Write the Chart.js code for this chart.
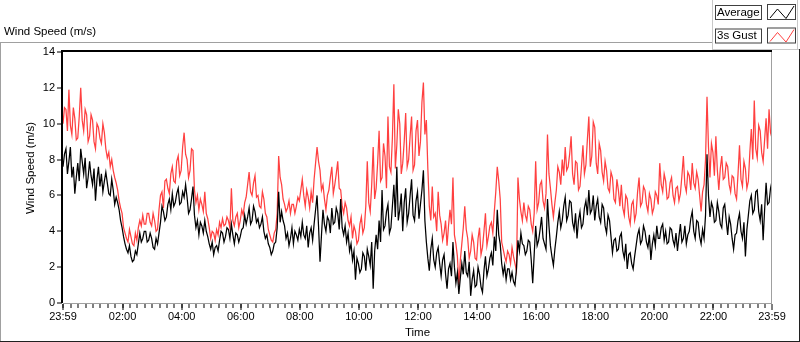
<!DOCTYPE html>
<html><head><meta charset="utf-8">
<script src="https://cdn.jsdelivr.net/npm/chart.js@4.4.1/dist/chart.umd.min.js"></script>
<style>html,body{margin:0;padding:0;background:#fff;overflow:hidden}#wrap{position:relative;width:800px;height:342px}</style>
</head><body><div id="wrap"><canvas id="c" width="800" height="342"></canvas></div>
<script>
// ---------- data ----------
const chartTitle = 'Wind Speed (m/s)';
const yAxisTitle = 'Wind Speed (m/s)';
const xAxisTitle = 'Time';
const seriesNames = ['Average', '3s Gust'];
const sampleStepMinutes = 3;            // one reading every 3 minutes from 23:59
const xTickMinutes = [0, 121, 241, 361, 481, 601, 721, 841, 961, 1081, 1201, 1321, 1440];
const xTickLabels = ['23:59', '02:00', '04:00', '06:00', '08:00', '10:00', '12:00', '14:00', '16:00', '18:00', '20:00', '22:00', '23:59'];
const yTickValues = [0, 2, 4, 6, 8, 10, 12, 14];

const average = [
7.6,8.3, 8.6,7.2, 7.9,8.7, 7.0,7.6, 6.1,7.0, 7.8,6.8, 8.6,7.9, 7.2,8.1, 6.4,7.0, 7.9,7.1,
6.6,7.5, 5.7,6.9, 7.6,6.5, 7.2,6.2, 6.8,7.3, 6.7,6.1, 6.0,6.9, 6.3,5.5, 5.9,5.6, 5.2,4.6,
4.2,3.7, 3.3,3.0, 2.8,3.2, 2.6,2.3, 2.4,2.9, 2.7,3.3, 3.9,3.4, 3.6,4.0, 4.0,3.4, 3.5,3.9,
3.6,3.1, 3.0,3.6, 3.3,3.9, 4.5,5.4, 5.1,4.6, 4.8,5.5, 5.8,5.2, 6.1,5.4, 5.6,6.1, 6.4,5.5,
5.6,6.2, 5.9,6.6,
5.9,5.0, 5.2,5.8, 6.5,4.9, 4.2,4.6, 3.8,4.5, 4.3,3.9, 4.6,4.0, 3.7,3.3, 3.0,3.4, 2.7,3.1,
3.2,2.9, 3.5,4.0, 3.9,3.4, 3.7,4.2, 4.1,3.6, 4.4,3.8, 3.3,3.9, 3.8,3.4, 3.7,4.1, 4.2,4.9,
4.4,4.8, 5.3,4.4, 4.6,5.4, 5.1,4.5, 4.7,4.2, 4.4,4.8, 4.0,3.6, 3.8,3.3, 3.1,2.7, 2.9,3.3,
3.4,4.2, 6.2,4.5, 5.1,4.6, 4.3,3.6, 3.9,3.2, 3.6,4.2, 3.3,4.0, 3.8,3.5, 4.1,3.7, 4.5,3.8,
3.6,4.3, 3.1,3.9, 4.2,3.5, 4.4,5.2, 6.0,4.3, 2.3,3.8, 5.2,4.4, 4.0,4.8, 4.6,3.9, 5.3,4.4,
4.5,5.3, 5.0,4.1, 5.8,4.2, 3.8,4.3, 3.4,3.9, 2.9,3.3, 2.4,2.9, 1.3,2.5, 2.2,1.7, 1.9,2.8,
2.6,1.8, 3.0,2.6, 2.1,3.4, 0.8,2.9, 3.8,3.0, 4.6,3.4, 6.3,4.1, 4.3,5.1, 5.5,3.9, 4.2,5.4,
6.6,4.8, 7.6,4.6, 5.2,6.1, 4.0,5.6, 6.4,4.5, 5.0,6.0, 6.9,4.9, 4.6,5.7, 6.2,4.7, 5.5,6.3,
7.4,4.6,
3.4,2.5, 1.8,3.0, 3.6,2.4, 2.0,2.8, 3.1,2.2, 1.5,2.4, 2.7,1.6, 0.8,1.9, 2.2,1.5, 3.4,2.0,
1.1,1.7, 0.5,1.4, 2.2,1.6, 2.9,1.7, 1.5,2.3, 0.4,1.3, 1.8,0.9, 1.0,2.0, 1.6,0.9, 0.6,1.8,
2.6,1.5, 1.9,2.5, 2.8,2.1, 3.7,2.9, 5.2,3.8, 3.3,2.2, 1.6,2.1, 1.3,1.9, 1.9,1.3, 1.7,1.2,
1.0,1.9, 3.5,2.9, 3.9,3.3, 3.2,2.7, 2.9,3.5, 3.4,2.4, 1.1,2.7, 4.3,3.2, 3.5,4.1, 4.8,3.6,
3.3,3.0,
5.8,4.3, 3.2,2.6, 2.1,3.0, 3.7,4.5, 5.1,4.2, 4.6,5.4, 5.9,4.6, 4.9,5.7, 5.6,4.5, 4.1,5.0,
3.6,4.6, 5.1,4.2, 4.4,5.3, 5.7,4.9, 6.3,5.0, 5.2,6.0, 4.6,5.4, 5.8,4.8, 4.5,5.5, 5.3,4.3,
3.9,4.9, 4.6,3.7, 2.8,3.5, 3.6,2.9, 3.0,3.7, 3.9,2.9, 2.5,3.3, 1.9,2.7, 2.8,2.2, 1.9,2.6,
3.2,3.8, 4.1,3.3, 3.5,4.3, 4.0,3.4, 3.1,3.8, 2.4,3.3, 3.8,3.2, 4.3,3.6, 3.6,4.2, 4.4,3.5,
4.0,3.3, 3.4,4.2, 4.1,3.5, 3.2,3.9, 2.9,3.7, 4.4,3.4, 3.6,4.3, 3.3,3.8, 4.0,4.7, 5.1,4.0,
3.6,4.6, 4.5,3.7, 3.3,4.1, 3.6,4.9, 8.3,6.0, 4.8,5.6, 5.3,4.5, 4.6,5.6, 5.1,4.4, 4.2,5.3,
5.5,4.6, 3.8,4.8, 4.4,3.6, 3.0,3.8, 3.9,4.6, 5.0,4.0, 3.6,4.5, 2.6,4.1, 4.9,5.7, 6.0,5.0,
5.2,6.2, 6.3,5.1, 4.6,5.5, 3.5,5.2, 6.7,5.5, 5.6,6.4, 6.8
];

const gust = [
10.0,10.9, 10.8,9.6, 11.9,9.9, 9.4,10.9, 10.3,9.1, 9.2,10.4, 12.0,10.2, 9.6,10.8, 10.5,9.0, 9.3,10.5,
10.2,9.0, 8.6,10.0, 9.8,9.2, 8.9,10.0, 9.5,8.6, 8.1,8.4, 7.6,8.0, 7.4,7.0, 6.7,6.3, 5.7,5.3,
5.0,4.2, 3.9,3.6, 3.4,4.1, 3.7,3.3, 3.2,3.9, 3.5,4.2, 4.6,4.3, 4.9,4.4, 4.4,5.0, 5.0,4.5,
4.3,5.0, 4.6,4.0, 4.1,5.2, 6.0,6.2, 5.3,6.8, 6.9,6.4, 6.1,7.2, 7.6,6.8, 6.7,7.9, 8.2,7.1,
7.4,8.7, 9.5,8.3,
8.0,7.0, 7.4,8.6, 8.5,6.3, 5.6,6.0, 5.2,5.8, 5.5,5.1, 6.2,5.0, 4.7,4.2, 3.6,4.0, 3.9,3.5,
4.1,3.8, 4.5,4.2, 4.7,4.3, 4.4,4.8, 4.6,4.2, 6.4,4.6, 4.3,4.8, 5.0,4.2, 4.6,5.2, 4.9,5.6,
5.9,6.6, 7.3,6.2, 6.0,6.7, 7.1,5.9, 6.0,5.4, 5.3,6.2, 5.8,5.0, 4.8,4.1, 3.8,3.5, 3.4,3.9,
4.1,5.0, 8.2,7.0, 6.6,5.8, 5.5,5.1, 5.3,5.7, 5.0,5.5, 5.5,5.0, 5.4,5.9, 5.7,6.3, 6.9,6.0,
5.4,6.3, 5.9,5.3, 6.2,5.6, 6.9,7.8, 8.7,7.9, 7.4,6.3, 6.6,5.8, 5.2,6.0, 6.3,7.0, 7.6,6.1,
6.6,7.2, 7.9,6.4, 6.3,5.4, 5.0,5.6, 5.3,4.6, 4.3,4.8, 3.6,4.3, 4.0,3.3, 3.5,4.4, 4.8,3.9,
4.2,5.4, 7.9,5.6, 5.1,6.6, 8.7,5.8, 6.4,7.8, 9.6,6.8, 7.0,8.9, 8.2,6.4, 10.4,7.6, 7.3,9.2,
12.2,7.5, 8.8,10.8, 10.0,7.2, 7.8,9.0, 10.6,7.6, 8.0,9.3, 10.4,7.4, 7.7,9.6, 10.2,8.2, 9.0,11.2,
12.3,9.4,
10.2,7.5, 5.4,4.6, 6.5,4.8, 5.0,4.0, 6.2,4.9, 4.4,3.5, 3.9,4.6, 3.2,4.3, 5.2,4.4, 7.0,3.8,
3.3,2.6, 1.0,2.4, 3.3,4.2, 5.4,4.1, 3.6,2.5, 2.9,3.8, 3.4,2.5, 2.4,3.6, 4.2,2.7, 3.1,4.0,
5.0,3.2, 3.7,4.3, 4.5,3.9, 5.1,6.2, 7.6,6.8, 5.8,3.4, 3.0,2.6, 2.3,2.9, 2.7,2.2, 3.1,2.6,
2.2,1.8, 7.0,5.8, 5.1,4.6, 5.6,4.9, 4.6,5.4, 5.2,4.4, 4.0,5.0, 7.9,5.2, 5.6,6.6, 6.8,5.7,
5.3,6.1,
9.4,7.2, 6.4,5.5, 4.8,5.6, 6.3,7.6, 7.3,6.6, 8.0,7.1, 8.7,7.4, 7.6,8.3, 9.3,7.2, 6.6,7.9,
7.8,6.3, 6.5,7.6, 8.8,7.2, 7.7,9.1, 10.4,7.6, 8.2,10.1, 9.8,7.8, 7.2,8.9, 8.5,7.3, 6.8,7.9,
7.4,6.4, 6.2,7.3, 7.0,5.8, 5.6,6.9, 6.3,5.4, 6.6,5.3, 4.9,6.0, 5.8,4.8, 4.4,5.5, 5.7,4.6,
5.0,6.2, 7.0,5.4, 5.6,6.5, 6.3,5.5, 5.1,6.1, 5.8,5.0, 5.3,6.2, 6.0,5.5, 7.8,6.6, 6.2,7.2,
6.8,5.8, 5.9,6.7, 7.0,6.0, 5.6,6.4, 6.5,5.7, 6.1,7.1, 8.2,6.6, 6.2,7.3, 7.1,6.3, 7.8,6.7,
6.4,7.3, 6.9,6.0, 5.1,6.2, 6.6,8.0, 11.5,8.7, 7.0,8.9, 8.4,7.1, 9.3,7.4, 6.3,7.5, 8.2,6.9,
7.0,7.8, 7.6,6.6, 6.2,7.1, 7.0,6.1, 5.8,7.2, 8.8,6.9, 6.5,7.9, 7.5,6.4, 6.8,8.4, 9.7,8.0,
11.3,8.6, 8.1,9.9, 9.6,8.4, 7.9,9.1, 10.3,8.6, 10.8,9.5, 9.2
];

// ---------- chart ----------
const FONT = '"Liberation Sans", Arial, sans-serif';
const GUST_RED = 'rgb(255,64,64)';
const toPoints = arr => arr.map((v, i) => ({ x: i * sampleStepMinutes, y: v }));

const decor = {
  id: 'decor',
  beforeDraw(chart) {
    const c = chart.ctx;
    c.save(); c.fillStyle = '#fff'; c.fillRect(0, 0, chart.width, chart.height); c.restore();
  },
  afterDraw(chart) {
    const c = chart.ctx, ca = chart.chartArea, xs = chart.scales.x, ys = chart.scales.y;
    c.save();
    // outer frame
    c.fillStyle = '#a0a0a0';
    c.fillRect(0, 42, 712, 1);
    c.fillRect(0, 42, 1, 300);
    c.fillStyle = '#202020';
    c.fillRect(0, 341, 800, 1);
    c.fillRect(799, 49, 1, 293);
    // plot border
    c.fillStyle = '#000';
    c.fillRect(ca.left - 2, ca.top - 2, ca.right - ca.left + 2, 2);
    c.fillRect(ca.left - 2, ca.top - 2, 2, ca.bottom - ca.top + 2);
    c.fillStyle = '#a0a0a0';
    c.fillRect(ca.right - 1, ca.top, 1, ca.bottom - ca.top + 1);
    c.fillRect(ca.left, ca.bottom, ca.right - ca.left, 1);
    // x tick marks (minor every 15 min, major at labels)
    c.fillStyle = '#000';
    for (let m = 1; m < 1440; m += 15) {
      const px = Math.round(xs.getPixelForValue(m)) - 0.5;
      c.fillRect(px, ca.bottom + 1, 1, 4);
    }
    xTickMinutes.forEach(m => {
      const px = Math.round(xs.getPixelForValue(m)) - 0.5;
      c.fillRect(px, ca.bottom + 1, 1, 6);
    });
    // y tick marks
    yTickValues.forEach(v => {
      const py = Math.round(ys.getPixelForValue(v)) - 0.5;
      c.fillRect(ca.left - 6, py, 5, 1);
    });
    // titles
    c.fillStyle = '#000';
    c.font = '11.5px ' + FONT;
    c.textBaseline = 'middle';
    c.textAlign = 'left';
    c.fillText(chartTitle, 4, 31.5);
    c.textAlign = 'center';
    c.fillText(xAxisTitle, (ca.left + ca.right) / 2, 333);
    c.save();
    c.translate(31, 168);
    c.rotate(-Math.PI / 2);
    c.fillText(yAxisTitle, 0, 0);
    c.restore();
    // legend panel
    c.fillStyle = '#c8c8c8';
    c.fillRect(712, 0, 1, 50);
    c.fillRect(712, 49, 87, 1);
    c.fillRect(797, 0, 1, 49);
    const rows = [{ y: 4, name: seriesNames[0], color: '#000' }, { y: 27.5, name: seriesNames[1], color: GUST_RED }];
    rows.forEach(r => {
      c.fillStyle = '#fff';
      c.fillRect(715, r.y + 1, 47, 15);
      c.fillRect(767, r.y, 29, 16);
      c.strokeStyle = '#404040'; c.lineWidth = 1;
      c.strokeRect(715.5, r.y + 1.5, 46, 14);
      c.strokeRect(767.5, r.y + 0.5, 28, 15);
      c.fillStyle = '#000';
      c.textAlign = 'left';
      c.font = '11.5px ' + FONT;
      c.fillText(r.name, 717, r.y + 8.5);
      c.strokeStyle = r.color;
      c.beginPath();
      c.moveTo(770, r.y + 14); c.lineTo(777.5, r.y + 5); c.lineTo(786, r.y + 14.5); c.lineTo(794, r.y + 2);
      c.stroke();
    });
    c.restore();
  }
};

new Chart(document.getElementById('c'), {
  type: 'line',
  data: {
    datasets: [
      { label: seriesNames[0], data: toPoints(average), borderColor: '#000', borderWidth: 1.25, pointRadius: 0, tension: 0 },
      { label: seriesNames[1], data: toPoints(gust), borderColor: GUST_RED, borderWidth: 1.25, pointRadius: 0, tension: 0 }
    ]
  },
  options: {
    responsive: false, animation: false, devicePixelRatio: 1,
    layout: { padding: { left: 0, right: 28, top: 52, bottom: 0 } },
    plugins: { legend: { display: false }, tooltip: { enabled: false }, title: { display: false } },
    scales: {
      x: {
        type: 'linear', min: 0, max: 1440,
        afterFit(s) { s.height = 39; },
        afterBuildTicks(s) { s.ticks = xTickMinutes.map(v => ({ value: v })); },
        ticks: {
          autoSkip: false, maxRotation: 0, padding: 7, color: '#000',
          font: { family: FONT, size: 11 },
          callback: (v) => { const k = xTickMinutes.indexOf(v); return k >= 0 ? xTickLabels[k] : ''; }
        },
        grid: { display: false, drawTicks: false, tickLength: 0 },
        border: { display: false }
      },
      y: {
        min: 0, max: 14,
        afterFit(s) { s.width = 63; },
        afterBuildTicks(s) { s.ticks = yTickValues.map(v => ({ value: v })); },
        ticks: { padding: 8, color: '#000', font: { family: FONT, size: 11 } },
        grid: { display: false, drawTicks: false, tickLength: 0 },
        border: { display: false }
      }
    }
  },
  plugins: [decor]
});
</script></body></html>
